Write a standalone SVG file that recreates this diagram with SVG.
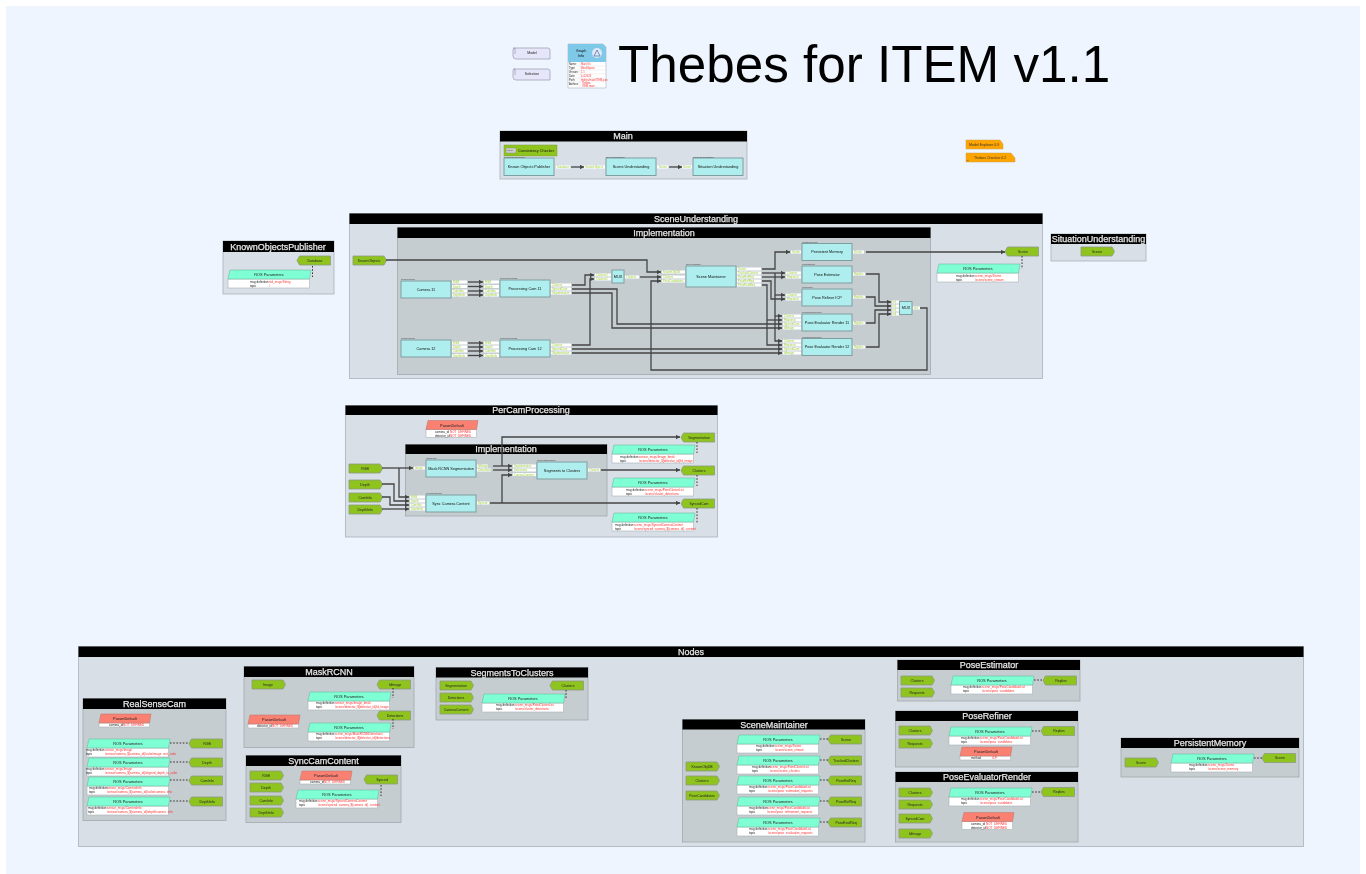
<svg xmlns="http://www.w3.org/2000/svg" width="1366" height="874" viewBox="0 0 1366 874">
<style>
text{font-family:"Liberation Sans",Arial,sans-serif}
.cl{fill:#d8dfe6;stroke:#a9b2b8;stroke-width:.8}
.ci{fill:#c6cdd0;stroke:#a2aaae;stroke-width:.8}
.hd{fill:#000}
.ht{fill:#e6e6e6;stroke:#e6e6e6;stroke-width:.25;font-size:9px;text-anchor:middle}
.n{fill:#afeeee;stroke:#7f9ea0;stroke-width:1}
.nt{font-size:3.8px;fill:#111;text-anchor:middle}
.nl{font-size:2px;fill:#444}
.pp{fill:#8fc41f;stroke:#8d9a80;stroke-width:.8}
.pt{font-size:3.5px;fill:#222;text-anchor:middle}
.rh{fill:#7fffd4;stroke:#6fb8a0;stroke-width:.6}
.pdh{fill:#fa8072;stroke:#c07a70;stroke-width:.6}
.tb{fill:#fff;stroke:#a9b2b8;stroke-width:.6}
.h{font-size:3.9px;fill:#222;text-anchor:middle}
.k{font-size:3px;fill:#222}
.v{font-size:3px;fill:#f33}
.l{fill:#fff}
.lt{font-size:2.8px;fill:#9acd32}
.c{fill:none;stroke:#444;stroke-width:1.3}
.a{marker-end:url(#ah)}
.d{fill:none;stroke:#333;stroke-width:1;stroke-dasharray:1.6 1.6}
.sc{fill:#e6e6fa;stroke:#9a9aaa;stroke-width:.7}
.tg{fill:#ffa500;stroke:#c9a15a;stroke-width:.5}
.tgt{font-size:3.6px;fill:#333}
.gi{font-size:2.6px;fill:#222}
.gr{font-size:2.6px;fill:#f33}
</style>
<defs>
<filter id="soft" filterUnits="userSpaceOnUse" x="0" y="0" width="1366" height="874" color-interpolation-filters="sRGB"><feGaussianBlur stdDeviation=".4"/></filter>
<marker id="ah" markerUnits="userSpaceOnUse" markerWidth="5" markerHeight="5" refX="4" refY="2.5" orient="auto"><path d="M0 .3L4 2.5L0 4.7Z" fill="#444"/></marker>
<path id="pi" class="pp" d="M0 0H31L33.5 4.5L31 9H0Z"/>
<path id="po" class="pp" d="M0 4.5L2.5 0H33.5V9H2.5Z"/>
<g id="ros"><rect class="tb" x="0" y="9" width="81.5" height="9"/><path class="rh" d="M2 0H83L81.5 9H0Z"/></g>
<g id="pd1"><rect class="tb" x="0" y="9" width="50.5" height="4"/><path class="pdh" d="M2 0H52L50.5 9H0Z"/></g>
<g id="pd2"><rect class="tb" x="0" y="9" width="50.5" height="8"/><path class="pdh" d="M2 0H52L50.5 9H0Z"/></g>
</defs>
<rect width="1366" height="874" fill="#fff"/>
<rect x="6" y="6" width="1354" height="868" fill="#eef5fe"/>
<g id="diagram" filter="url(#soft)">

<g id="title"><text x="618" y="82" font-size="51.2" fill="#000">Thebes for ITEM v1.1</text></g>

<g id="legend-model"><path class="sc" d="M513 48H548Q550 48 550 50V59H516Q513 59 513 56V50Q513 48 515 48V54"/><text class="pt" x="532" y="54">Model</text></g>
<g id="legend-selection"><path class="sc" d="M513 69H548Q550 69 550 71V80H516Q513 80 513 77V71Q513 69 515 69V75"/><text class="pt" x="532" y="75">Selection</text></g>

<g id="graph-info">
<path d="M568 44H603L606 47V88H568Z" fill="#fff" stroke="#a9b2b8" stroke-width=".6"/>
<path d="M568 44H603L606 47V62H568Z" fill="#7ec8e8"/>
<circle cx="597" cy="53" r="5" fill="#dfe8f5"/>
<path d="M597 50L594 56H600Z" fill="none" stroke="#5a78b0" stroke-width=".8"/>
<text class="nt" x="581" y="52">Graph</text><text class="nt" x="581" y="57">Info</text>
<path d="M580 62V88M568 66H606M568 70H606M568 74H606M568 78H606M568 82H606" stroke="#ccc" stroke-width=".3" fill="none"/>
<text class="gi" x="569" y="65">Name:</text><text class="gr" x="581" y="65">Main Kit</text>
<text class="gi" x="569" y="69">Type:</text><text class="gr" x="581" y="69">BlockSpace</text>
<text class="gi" x="569" y="73">Version:</text><text class="gr" x="581" y="73">1.1</text>
<text class="gi" x="569" y="77">Date:</text><text class="gr" x="581" y="77">4.4.2024</text>
<text class="gi" x="569" y="81">Path:</text><text class="gr" x="581" y="81">thebes/main/ITEM.json</text>
<text class="gi" x="569" y="85">Authors:</text><text class="gr" x="582" y="84">Thebes</text><text class="gr" x="582" y="87">ITEM team</text>
</g>

<g id="tag-model-explorer"><path class="tg" d="M966 140H1000L1003 144V149H966Z"/><text class="tgt" x="969" y="146">Model Explorer 0.9</text></g>
<g id="tag-thebes-checker"><path class="tg" d="M966 153H1011L1015 158V162H966Z"/><text class="tgt" x="974" y="158.5">Thebes Checker 0.2</text><text class="nl" x="966.5" y="160.5">Ct</text></g>

<g id="main">
<rect class="cl" x="500" y="131" width="247" height="48"/><rect class="hd" x="500" y="131" width="247" height="10.5"/><text class="ht" x="623" y="139.2">Main</text>
<g id="consistency"><rect x="504" y="145" width="53" height="11" fill="#8fc41f" stroke="#7d9a40" stroke-width=".5"/><rect x="506" y="148" width="10" height="5" rx="1" fill="#ccc" stroke="#777" stroke-width=".3"/><text class="nl" x="507" y="151.3">Check</text><text class="nt" x="536" y="151.8">Consistency Checker</text></g>
<g id="main-kop"><rect class="n" x="504" y="158" width="50" height="17.5"/><text class="nt" x="529" y="168">Known Objects Publisher</text><text class="nl" x="504" y="157.5">KnownObjectsPublisher</text></g>
<g id="main-su"><rect class="n" x="606" y="158" width="50" height="17.5"/><text class="nt" x="631" y="168">Scene Understanding</text><text class="nl" x="606" y="157.5">SceneUnderstanding</text></g>
<g id="main-situ"><rect class="n" x="693" y="158" width="50" height="17.5"/><text class="nt" x="718" y="168">Situation Understanding</text><text class="nl" x="693" y="157.5">SituationUnderstanding</text></g>
<rect class="l" x="556" y="165.5" width="14" height="3"/><text class="lt" x="557" y="168">Database</text>
<rect class="l" x="584" y="165.5" width="21" height="3"/><text class="lt" x="585" y="168">KnownObjects</text>
<rect class="l" x="657" y="165.5" width="11" height="3"/><text class="lt" x="659" y="168">Scene</text>
<rect class="l" x="682" y="165.5" width="10" height="3"/><text class="lt" x="683" y="168">Scene</text>
</g>

<g id="knownobjectspublisher">
<rect class="cl" x="223" y="241" width="111" height="53"/><rect class="hd" x="223" y="241" width="111" height="11"/><text class="ht" x="278" y="249.5">KnownObjectsPublisher</text>
<g id="kop-database" transform="translate(297,256)"><use href="#po"/><text class="pt" x="18" y="5.6">Database</text></g>
<g id="kop-ros" transform="translate(228,270)"><use href="#ros"/><text class="h" x="41" y="6">ROS Parameters</text><text class="k" x="22" y="12.5">msg definition</text><text class="k" x="22" y="16.5">topic</text><text class="v" x="41" y="12.5">std_msgs/String</text><text class="v" x="41" y="16.5">/</text></g>
</g>

<g id="sceneunderstanding">
<rect class="cl" x="349.5" y="213.5" width="693" height="165"/><rect class="hd" x="349.5" y="213.5" width="693" height="10.5"/><text class="ht" x="696" y="221.7">SceneUnderstanding</text>
<g id="su-knownobjects" transform="translate(353,256)"><use href="#pi"/><text class="pt" x="16" y="5.6">KnownObjects</text></g>
<g id="su-scene" transform="translate(1005,247)"><use href="#po"/><text class="pt" x="18" y="5.6">Scene</text></g>
<g id="su-ros" transform="translate(937,264)"><use href="#ros"/><text class="h" x="41" y="6">ROS Parameters</text><text class="k" x="19" y="12.5">msg definition</text><text class="k" x="19" y="16.5">topic</text><text class="v" x="38" y="12.5">scene_msgs/Scene</text><text class="v" x="38" y="16.5">/scene/scene_stream</text></g>
<g id="su-impl">
<rect class="ci" x="397.5" y="227.5" width="533" height="147"/><rect class="hd" x="397.5" y="227.5" width="533" height="10.5"/><text class="ht" x="664" y="235.7">Implementation</text>
<g id="camera11"><rect class="n" x="401" y="281" width="50" height="17"/><text class="nt" x="426" y="290.5">Camera 11</text><text class="nl" x="401" y="280.3">RealSenseCam</text>
<rect class="l" x="452" y="280.5" width="15" height="3"/><text class="lt" x="453" y="283">RGB</text><rect class="l" x="452" y="285" width="15" height="3"/><text class="lt" x="453" y="287.5">Depth</text><rect class="l" x="452" y="289.5" width="15" height="3"/><text class="lt" x="453" y="292">CamInfo</text><rect class="l" x="452" y="293.5" width="15" height="3"/><text class="lt" x="453" y="296">DepthInfo</text></g>
<g id="procam11"><rect class="n" x="500" y="280" width="50" height="17"/><text class="nt" x="525" y="289.5">Processing Cam 11</text><text class="nl" x="500" y="279.3">PerCamProcessing</text>
<rect class="l" x="484" y="280.5" width="15" height="3"/><text class="lt" x="485" y="283">RGB</text><rect class="l" x="484" y="285" width="15" height="3"/><text class="lt" x="485" y="287.5">Depth</text><rect class="l" x="484" y="289.5" width="15" height="3"/><text class="lt" x="485" y="292">CamInfo</text><rect class="l" x="484" y="293.5" width="15" height="3"/><text class="lt" x="485" y="296">DepthInfo</text>
<rect class="l" x="551" y="283.5" width="20" height="3"/><text class="lt" x="552" y="286">Clusters</text><rect class="l" x="551" y="287.5" width="20" height="3"/><text class="lt" x="552" y="290">SyncedCam</text><rect class="l" x="551" y="291.5" width="20" height="3"/><text class="lt" x="552" y="294">Segmentation</text></g>
<g id="camera12"><rect class="n" x="401" y="340" width="50" height="17"/><text class="nt" x="426" y="349.5">Camera 12</text><text class="nl" x="401" y="339.3">RealSenseCam</text>
<rect class="l" x="452" y="341.5" width="15" height="3"/><text class="lt" x="453" y="344">RGB</text><rect class="l" x="452" y="345.5" width="15" height="3"/><text class="lt" x="453" y="348">Depth</text><rect class="l" x="452" y="349.5" width="15" height="3"/><text class="lt" x="453" y="352">CamInfo</text><rect class="l" x="452" y="354" width="15" height="3"/><text class="lt" x="453" y="356.5">DepthInfo</text></g>
<g id="procam12"><rect class="n" x="500" y="340" width="50" height="17"/><text class="nt" x="525" y="349.5">Processing Cam 12</text><text class="nl" x="500" y="339.3">PerCamProcessing</text>
<rect class="l" x="484" y="341.5" width="15" height="3"/><text class="lt" x="485" y="344">RGB</text><rect class="l" x="484" y="345.5" width="15" height="3"/><text class="lt" x="485" y="348">Depth</text><rect class="l" x="484" y="349.5" width="15" height="3"/><text class="lt" x="485" y="352">CamInfo</text><rect class="l" x="484" y="354" width="15" height="3"/><text class="lt" x="485" y="356.5">DepthInfo</text>
<rect class="l" x="551" y="343.5" width="20" height="3"/><text class="lt" x="552" y="346">Clusters</text><rect class="l" x="551" y="347.5" width="20" height="3"/><text class="lt" x="552" y="350">SyncedCam</text><rect class="l" x="551" y="351.5" width="20" height="3"/><text class="lt" x="552" y="354">Segmentation</text></g>
<g id="mux1"><rect class="n" x="612" y="270" width="12" height="13"/><text class="nt" x="618" y="277.8">MUX</text>
<rect class="l" x="595" y="273.5" width="16" height="3"/><text class="lt" x="596" y="276">Clusters1</text><rect class="l" x="595" y="277.5" width="16" height="3"/><text class="lt" x="596" y="280">Clusters2</text><rect class="l" x="625" y="275.5" width="14" height="3"/><text class="lt" x="626" y="278">Clusters</text></g>
<g id="scenemaintainer"><rect class="n" x="686" y="266" width="50" height="21"/><text class="nt" x="711" y="277.5">Scene Maintainer</text><text class="nl" x="686" y="265.3">SceneMaintainer</text>
<rect class="l" x="662" y="270.5" width="23" height="3"/><text class="lt" x="663" y="273">KnownObjDB</text><rect class="l" x="662" y="275.5" width="23" height="3"/><text class="lt" x="663" y="278">Clusters</text><rect class="l" x="662" y="279.5" width="23" height="3"/><text class="lt" x="663" y="282">PoseCandidates</text>
<rect class="l" x="737" y="267.5" width="24" height="3"/><text class="lt" x="738" y="270">Scene</text><rect class="l" x="737" y="271.5" width="24" height="3"/><text class="lt" x="738" y="274">TrackedClusters</text><rect class="l" x="737" y="275.5" width="24" height="3"/><text class="lt" x="738" y="278">PoseEstReq</text><rect class="l" x="737" y="279.5" width="24" height="3"/><text class="lt" x="738" y="282">PoseRefReq</text><rect class="l" x="737" y="283.5" width="24" height="3"/><text class="lt" x="738" y="286">PoseEvalReq</text></g>
<g id="persistentmemory"><rect class="n" x="802" y="243.5" width="50" height="17"/><text class="nt" x="827" y="253">Persistent Memory</text><text class="nl" x="802" y="242.8">PersistentMemory</text>
<rect class="l" x="791" y="250.5" width="10" height="3"/><text class="lt" x="792" y="253">Scene</text><rect class="l" x="853" y="250.5" width="11" height="3"/><text class="lt" x="854" y="253">Scene</text></g>
<g id="poseestimator"><rect class="n" x="802" y="266" width="50" height="17"/><text class="nt" x="827" y="275.5">Pose Estimator</text><text class="nl" x="802" y="265.3">PoseEstimator</text>
<rect class="l" x="786" y="271.5" width="15" height="3"/><text class="lt" x="787" y="274">Clusters</text><rect class="l" x="786" y="275.5" width="15" height="3"/><text class="lt" x="787" y="278">Requests</text><rect class="l" x="853" y="272.5" width="12" height="3"/><text class="lt" x="854" y="275">Replies</text></g>
<g id="poserefiner"><rect class="n" x="802" y="289" width="50" height="17"/><text class="nt" x="827" y="298.5">Pose Refiner ICP</text><text class="nl" x="802" y="288.3">PoseRefiner</text>
<rect class="l" x="786" y="293.5" width="15" height="3"/><text class="lt" x="787" y="296">Clusters</text><rect class="l" x="786" y="297.5" width="15" height="3"/><text class="lt" x="787" y="300">Requests</text><rect class="l" x="853" y="295.5" width="12" height="3"/><text class="lt" x="854" y="298">Replies</text></g>
<g id="poseeval11"><rect class="n" x="802" y="314" width="50" height="17"/><text class="nt" x="827" y="323.5">Pose Evaluator Render 11</text><text class="nl" x="802" y="313.3">PoseEvaluatorRender</text>
<rect class="l" x="783" y="314.5" width="18" height="3"/><text class="lt" x="784" y="317">Clusters</text><rect class="l" x="783" y="318.5" width="18" height="3"/><text class="lt" x="784" y="321">Requests</text><rect class="l" x="783" y="322.5" width="18" height="3"/><text class="lt" x="784" y="325">SyncedCam</text><rect class="l" x="783" y="326.5" width="18" height="3"/><text class="lt" x="784" y="329">IdImage</text><rect class="l" x="853" y="321.5" width="12" height="3"/><text class="lt" x="854" y="324">Replies</text></g>
<g id="poseeval12"><rect class="n" x="802" y="338.5" width="50" height="17"/><text class="nt" x="827" y="348">Pose Evaluator Render 12</text><text class="nl" x="802" y="337.8">PoseEvaluatorRender</text>
<rect class="l" x="783" y="339.5" width="18" height="3"/><text class="lt" x="784" y="342">Clusters</text><rect class="l" x="783" y="343.5" width="18" height="3"/><text class="lt" x="784" y="346">Requests</text><rect class="l" x="783" y="347.5" width="18" height="3"/><text class="lt" x="784" y="350">SyncedCam</text><rect class="l" x="783" y="351.5" width="18" height="3"/><text class="lt" x="784" y="354">IdImage</text><rect class="l" x="853" y="345.5" width="12" height="3"/><text class="lt" x="854" y="348">Replies</text></g>
<g id="mux2"><rect class="n" x="899.5" y="301.5" width="12.5" height="13"/><text class="nt" x="906" y="309.3">MUX</text>
<rect class="l" x="892" y="300.5" width="7" height="3"/><text class="lt" x="892.5" y="303">in1</text><rect class="l" x="892" y="304.5" width="7" height="3"/><text class="lt" x="892.5" y="307">in2</text><rect class="l" x="892" y="308.5" width="7" height="3"/><text class="lt" x="892.5" y="311">in3</text><rect class="l" x="892" y="312.5" width="7" height="3"/><text class="lt" x="892.5" y="315">in4</text><rect class="l" x="913" y="306.5" width="7" height="3"/><text class="lt" x="914" y="309">out</text></g>
</g>
</g>

<g id="situationunderstanding">
<rect class="cl" x="1051" y="234" width="95" height="27"/><rect class="hd" x="1051" y="234" width="95" height="10"/><text class="ht" x="1098.5" y="242.2">SituationUnderstanding</text>
<g id="situ-scene" transform="translate(1081,247)"><use href="#pi"/><text class="pt" x="16" y="5.6">Scene</text></g>
</g>

<g id="percamprocessing">
<rect class="cl" x="345.5" y="405.5" width="372" height="131.5"/><rect class="hd" x="345.5" y="405.5" width="372" height="9.5"/><text class="ht" x="531" y="413.2">PerCamProcessing</text>
<g id="pc-paramdefault" transform="translate(426,420.5)"><use href="#pd2"/><text class="h" x="26" y="6">ParamDefault</text><text class="k" x="9" y="12.5">camera_id</text><text class="v" x="24" y="12.5">NOT_DEFINED</text><text class="k" x="9" y="16">detector_id</text><text class="v" x="24" y="16">NOT_DEFINED</text></g>
<g id="pc-rgb" transform="translate(349,464)"><use href="#pi"/><text class="pt" x="16" y="5.6">RGB</text></g>
<g id="pc-depth" transform="translate(349,480)"><use href="#pi"/><text class="pt" x="16" y="5.6">Depth</text></g>
<g id="pc-caminfo" transform="translate(349,493)"><use href="#pi"/><text class="pt" x="16" y="5.6">CamInfo</text></g>
<g id="pc-depthinfo" transform="translate(349,505)"><use href="#pi"/><text class="pt" x="16" y="5.6">DepthInfo</text></g>
<g id="pc-segmentation" transform="translate(681,433)"><use href="#po"/><text class="pt" x="18" y="5.6">Segmentation</text></g>
<g id="pc-clusters" transform="translate(681,466)"><use href="#po"/><text class="pt" x="18" y="5.6">Clusters</text></g>
<g id="pc-syncedcam" transform="translate(681,499)"><use href="#po"/><text class="pt" x="18" y="5.6">SyncedCam</text></g>
<g id="pc-ros1" transform="translate(612,445)"><use href="#ros"/><text class="h" x="41" y="6">ROS Parameters</text><text class="k" x="8" y="12.5">msg definition</text><text class="k" x="8" y="16.5">topic</text><text class="v" x="27" y="12.5">sensor_msgs/Image_bmsk</text><text class="v" x="27" y="16.5">/scene/detector_${detector_id}/id_image</text></g>
<g id="pc-ros2" transform="translate(612,478)"><use href="#ros"/><text class="h" x="41" y="6">ROS Parameters</text><text class="k" x="14" y="12.5">msg definition</text><text class="k" x="14" y="16.5">topic</text><text class="v" x="33" y="12.5">scene_msgs/PointClusterList</text><text class="v" x="33" y="16.5">/scene/cluster_detections</text></g>
<g id="pc-ros3" transform="translate(612,513)"><use href="#ros"/><text class="h" x="41" y="6">ROS Parameters</text><text class="k" x="3" y="12.5">msg definition</text><text class="k" x="3" y="16.5">topic</text><text class="v" x="22" y="12.5">scene_msgs/SyncedCameraContent</text><text class="v" x="22" y="16.5">/scene/synced_camera_${camera_id}_content</text></g>
<g id="pc-impl">
<rect class="ci" x="405.5" y="444.5" width="201.5" height="71.5"/><rect class="hd" x="405.5" y="444.5" width="201.5" height="9.5"/><text class="ht" x="506" y="452.4">Implementation</text>
<g id="maskrcnn"><rect class="n" x="426" y="460" width="50" height="17"/><text class="nt" x="451" y="469.5">Mask RCNN Segmentation</text><text class="nl" x="426" y="459.3">MaskRCNN</text>
<rect class="l" x="414" y="466.5" width="11" height="3"/><text class="lt" x="415" y="469">Image</text><rect class="l" x="477" y="464.5" width="11" height="3"/><text class="lt" x="478" y="467">IdImage</text><rect class="l" x="477" y="468.5" width="14" height="3"/><text class="lt" x="478" y="471">Detections</text></g>
<g id="segmentstoclusters"><rect class="n" x="537" y="462" width="50" height="17"/><text class="nt" x="562" y="471.5">Segments to Clusters</text><text class="nl" x="537" y="461.3">SegmentsToClusters</text>
<rect class="l" x="513" y="464.5" width="23" height="3"/><text class="lt" x="514" y="467">Segmentation</text><rect class="l" x="513" y="468.5" width="23" height="3"/><text class="lt" x="514" y="471">Detections</text><rect class="l" x="513" y="473" width="23" height="3"/><text class="lt" x="514" y="475.5">CameraContent</text><rect class="l" x="588" y="468.5" width="12" height="3"/><text class="lt" x="589" y="471">Clusters</text></g>
<g id="synccamcontent"><rect class="n" x="426" y="495" width="50" height="17"/><text class="nt" x="451" y="504.5">Sync Camera Content</text><text class="nl" x="426" y="494.3">SyncCamContent</text>
<rect class="l" x="410" y="495.5" width="15" height="3"/><text class="lt" x="411" y="498">RGB</text><rect class="l" x="410" y="499.5" width="15" height="3"/><text class="lt" x="411" y="502">Depth</text><rect class="l" x="410" y="503.5" width="15" height="3"/><text class="lt" x="411" y="506">CamInfo</text><rect class="l" x="410" y="507.5" width="15" height="3"/><text class="lt" x="411" y="510">DepthInfo</text><rect class="l" x="477" y="501.5" width="12" height="3"/><text class="lt" x="478" y="504">Synced</text></g>
</g>
</g>

<g id="nodes">
<rect class="cl" x="78.5" y="646.5" width="1225" height="200"/><rect class="hd" x="78.5" y="646.5" width="1225" height="10.5"/><text class="ht" x="691" y="654.7">Nodes</text>

<g id="realsensecam">
<rect class="ci" x="83" y="698.5" width="143" height="122"/><rect class="hd" x="83" y="698.5" width="143" height="10.5"/><text class="ht" x="154.5" y="706.9">RealSenseCam</text>
<g id="rs-pd" transform="translate(99,714)"><use href="#pd1"/><text class="h" x="26" y="6">ParamDefault</text><text class="k" x="10" y="12.3">camera_id</text><text class="v" x="24" y="12.3">NOT_DEFINED</text></g>
<g id="rs-ros1" transform="translate(87,739)"><use href="#ros"/><text class="h" x="41" y="6">ROS Parameters</text><text class="k" x="-1" y="12">msg definition</text><text class="k" x="-1" y="16">topic</text><text class="v" x="18" y="12">sensor_msgs/Image</text><text class="v" x="18" y="16">/sensor/camera_${camera_id}/color/image_rect_color</text></g>
<g id="rs-ros2" transform="translate(87,758)"><use href="#ros"/><text class="h" x="41" y="6">ROS Parameters</text><text class="k" x="-1" y="12">msg definition</text><text class="k" x="-1" y="16">topic</text><text class="v" x="18" y="12">sensor_msgs/Image</text><text class="v" x="18" y="16">/sensor/camera_${camera_id}/aligned_depth_to_color</text></g>
<g id="rs-ros3" transform="translate(87,777)"><use href="#ros"/><text class="h" x="41" y="6">ROS Parameters</text><text class="k" x="2" y="12">msg definition</text><text class="k" x="2" y="16">topic</text><text class="v" x="20" y="12">sensor_msgs/CameraInfo</text><text class="v" x="20" y="16">/sensor/camera_${camera_id}/color/camera_info</text></g>
<g id="rs-ros4" transform="translate(87,797)"><use href="#ros"/><text class="h" x="41" y="6">ROS Parameters</text><text class="k" x="1" y="12">msg definition</text><text class="k" x="1" y="16">topic</text><text class="v" x="20" y="12">sensor_msgs/CameraInfo</text><text class="v" x="20" y="16">/sensor/camera_${camera_id}/depth/camera_info</text></g>
<g id="rs-rgb" transform="translate(189,739)"><use href="#po"/><text class="pt" x="18" y="5.6">RGB</text></g>
<g id="rs-depth" transform="translate(189,758)"><use href="#po"/><text class="pt" x="18" y="5.6">Depth</text></g>
<g id="rs-caminfo" transform="translate(189,776)"><use href="#po"/><text class="pt" x="18" y="5.6">CamInfo</text></g>
<g id="rs-depthinfo" transform="translate(189,797)"><use href="#po"/><text class="pt" x="18" y="5.6">DepthInfo</text></g>
</g>

<g id="maskrcnn-def">
<rect class="ci" x="244" y="666.5" width="170" height="81"/><rect class="hd" x="244" y="666.5" width="170" height="10.5"/><text class="ht" x="329" y="674.9">MaskRCNN</text>
<g id="mr-image" transform="translate(252,680)"><use href="#pi"/><text class="pt" x="16" y="5.6">Image</text></g>
<g id="mr-idimage" transform="translate(377,680)"><use href="#po"/><text class="pt" x="18" y="5.6">IdImage</text></g>
<g id="mr-detections" transform="translate(377,711)"><use href="#po"/><text class="pt" x="18" y="5.6">Detections</text></g>
<g id="mr-ros1" transform="translate(308,692)"><use href="#ros"/><text class="h" x="41" y="6">ROS Parameters</text><text class="k" x="8" y="12">msg definition</text><text class="k" x="8" y="16">topic</text><text class="v" x="27" y="12">sensor_msgs/Image_bmsk</text><text class="v" x="27" y="16">/scene/detector_${detector_id}/id_image</text></g>
<g id="mr-ros2" transform="translate(308,723)"><use href="#ros"/><text class="h" x="41" y="6">ROS Parameters</text><text class="k" x="8" y="12">msg definition</text><text class="k" x="8" y="16">topic</text><text class="v" x="27" y="12">scene_msgs/MaskRCNNDetections</text><text class="v" x="27" y="16">/scene/detector_${detector_id}/detections</text></g>
<g id="mr-pd" transform="translate(248,715)"><use href="#pd1"/><text class="h" x="26" y="6">ParamDefault</text><text class="k" x="9" y="12.3">detector_id</text><text class="v" x="24" y="12.3">NOT_DEFINED</text></g>
</g>

<g id="synccamcontent-def">
<rect class="ci" x="246" y="755.5" width="155" height="67"/><rect class="hd" x="246" y="755.5" width="155" height="10.5"/><text class="ht" x="323.5" y="763.9">SyncCamContent</text>
<g id="sc-rgb" transform="translate(250,771)"><use href="#pi"/><text class="pt" x="16" y="5.6">RGB</text></g>
<g id="sc-depth" transform="translate(250,783)"><use href="#pi"/><text class="pt" x="16" y="5.6">Depth</text></g>
<g id="sc-caminfo" transform="translate(250,796)"><use href="#pi"/><text class="pt" x="16" y="5.6">CamInfo</text></g>
<g id="sc-depthinfo" transform="translate(250,808)"><use href="#pi"/><text class="pt" x="16" y="5.6">DepthInfo</text></g>
<g id="sc-synced" transform="translate(364,775)"><use href="#po"/><text class="pt" x="18" y="5.6">Synced</text></g>
<g id="sc-pd" transform="translate(300,771)"><use href="#pd1"/><text class="h" x="26" y="6">ParamDefault</text><text class="k" x="10" y="12.3">camera_id</text><text class="v" x="24" y="12.3">NOT_DEFINED</text></g>
<g id="sc-ros" transform="translate(296,790)"><use href="#ros"/><text class="h" x="41" y="6">ROS Parameters</text><text class="k" x="3" y="12">msg definition</text><text class="k" x="3" y="16">topic</text><text class="v" x="22" y="12">scene_msgs/SyncedCameraContent</text><text class="v" x="22" y="16">/scene/synced_camera_${camera_id}_content</text></g>
</g>

<g id="segmentstoclusters-def">
<rect class="ci" x="436" y="667.5" width="152" height="52.5"/><rect class="hd" x="436" y="667.5" width="152" height="10"/><text class="ht" x="512" y="675.7">SegmentsToClusters</text>
<g id="st-seg" transform="translate(440,681)"><use href="#pi"/><text class="pt" x="16" y="5.6">Segmentation</text></g>
<g id="st-det" transform="translate(440,693)"><use href="#pi"/><text class="pt" x="16" y="5.6">Detections</text></g>
<g id="st-cam" transform="translate(440,705)"><use href="#pi"/><text class="pt" x="16" y="5.6">CameraContent</text></g>
<g id="st-clusters" transform="translate(550,681)"><use href="#po"/><text class="pt" x="18" y="5.6">Clusters</text></g>
<g id="st-ros" transform="translate(482,694)"><use href="#ros"/><text class="h" x="41" y="6">ROS Parameters</text><text class="k" x="14" y="12">msg definition</text><text class="k" x="14" y="16">topic</text><text class="v" x="33" y="12">scene_msgs/PointClusterList</text><text class="v" x="33" y="16">/scene/cluster_detections</text></g>
</g>

<g id="scenemaintainer-def">
<rect class="ci" x="682.5" y="719.5" width="182.5" height="122.5"/><rect class="hd" x="682.5" y="719.5" width="182.5" height="10"/><text class="ht" x="774" y="727.7">SceneMaintainer</text>
<g id="sm-known" transform="translate(686,762)"><use href="#pi"/><text class="pt" x="16" y="5.6">KnownObjDB</text></g>
<g id="sm-clusters" transform="translate(686,776)"><use href="#pi"/><text class="pt" x="16" y="5.6">Clusters</text></g>
<g id="sm-cand" transform="translate(686,791)"><use href="#pi"/><text class="pt" x="16" y="5.6">PoseCandidates</text></g>
<g id="sm-ros1" transform="translate(737,735)"><use href="#ros"/><text class="h" x="41" y="6">ROS Parameters</text><text class="k" x="19" y="12">msg definition</text><text class="k" x="19" y="16">topic</text><text class="v" x="38" y="12">scene_msgs/Scene</text><text class="v" x="38" y="16">/scene/scene_stream</text></g>
<g id="sm-ros2" transform="translate(737,756)"><use href="#ros"/><text class="h" x="41" y="6">ROS Parameters</text><text class="k" x="15" y="12">msg definition</text><text class="k" x="15" y="16">topic</text><text class="v" x="33" y="12">scene_msgs/PointClusterList</text><text class="v" x="33" y="16">/scene/scene_clusters</text></g>
<g id="sm-ros3" transform="translate(737,776)"><use href="#ros"/><text class="h" x="41" y="6">ROS Parameters</text><text class="k" x="12" y="12">msg definition</text><text class="k" x="12" y="16">topic</text><text class="v" x="31" y="12">scene_msgs/PoseCandidateList</text><text class="v" x="31" y="16">/scene/pose_estimation_requests</text></g>
<g id="sm-ros4" transform="translate(737,797)"><use href="#ros"/><text class="h" x="41" y="6">ROS Parameters</text><text class="k" x="12" y="12">msg definition</text><text class="k" x="12" y="16">topic</text><text class="v" x="30" y="12">scene_msgs/PoseCandidateList</text><text class="v" x="30" y="16">/scene/pose_refinement_requests</text></g>
<g id="sm-ros5" transform="translate(737,818)"><use href="#ros"/><text class="h" x="41" y="6">ROS Parameters</text><text class="k" x="12" y="12">msg definition</text><text class="k" x="12" y="16">topic</text><text class="v" x="31" y="12">scene_msgs/PoseCandidateList</text><text class="v" x="31" y="16">/scene/pose_evaluation_requests</text></g>
<g id="sm-scene" transform="translate(828,735)"><use href="#po"/><text class="pt" x="18" y="5.6">Scene</text></g>
<g id="sm-tracked" transform="translate(828,756)"><use href="#po"/><text class="pt" x="18" y="5.6">TrackedClusters</text></g>
<g id="sm-est" transform="translate(828,776)"><use href="#po"/><text class="pt" x="18" y="5.6">PoseEstReq</text></g>
<g id="sm-ref" transform="translate(828,797)"><use href="#po"/><text class="pt" x="18" y="5.6">PoseRefReq</text></g>
<g id="sm-eval" transform="translate(828,818)"><use href="#po"/><text class="pt" x="18" y="5.6">PoseEvalReq</text></g>
</g>

<g id="poseestimator-def">
<rect class="ci" x="897.5" y="660" width="182.5" height="41"/><rect class="hd" x="897.5" y="660" width="182.5" height="10"/><text class="ht" x="989" y="668.2">PoseEstimator</text>
<g id="pe-clusters" transform="translate(901,676)"><use href="#pi"/><text class="pt" x="16" y="5.6">Clusters</text></g>
<g id="pe-requests" transform="translate(901,688)"><use href="#pi"/><text class="pt" x="16" y="5.6">Requests</text></g>
<g id="pe-replies" transform="translate(1043,676)"><use href="#po"/><text class="pt" x="18" y="5.6">Replies</text></g>
<g id="pe-ros" transform="translate(951,676)"><use href="#ros"/><text class="h" x="41" y="6">ROS Parameters</text><text class="k" x="12" y="12.3">msg definition</text><text class="k" x="12" y="16">topic</text><text class="v" x="31" y="12.3">scene_msgs/PoseCandidateList</text><text class="v" x="31" y="16">/scene/pose_candidates</text></g>
</g>

<g id="poserefiner-def">
<rect class="ci" x="895.5" y="711" width="182.5" height="56"/><rect class="hd" x="895.5" y="711" width="182.5" height="10"/><text class="ht" x="987" y="719.2">PoseRefiner</text>
<g id="pr-clusters" transform="translate(899,726)"><use href="#pi"/><text class="pt" x="16" y="5.6">Clusters</text></g>
<g id="pr-requests" transform="translate(899,739)"><use href="#pi"/><text class="pt" x="16" y="5.6">Requests</text></g>
<g id="pr-replies" transform="translate(1041,726.5)"><use href="#po"/><text class="pt" x="18" y="5.6">Replies</text></g>
<g id="pr-ros" transform="translate(949,727)"><use href="#ros"/><text class="h" x="41" y="6">ROS Parameters</text><text class="k" x="12" y="12.3">msg definition</text><text class="k" x="12" y="16">topic</text><text class="v" x="31" y="12.3">scene_msgs/PoseCandidateList</text><text class="v" x="31" y="16">/scene/pose_candidates</text></g>
<g id="pr-pd" transform="translate(960,747)"><use href="#pd1"/><text class="h" x="26" y="6">ParamDefault</text><text class="k" x="11" y="12.3">method</text><text class="v" x="32" y="12.3">ICP</text></g>
</g>

<g id="poseevaluator-def">
<rect class="ci" x="895.5" y="772" width="182.5" height="70"/><rect class="hd" x="895.5" y="772" width="182.5" height="10"/><text class="ht" x="987" y="780.2">PoseEvaluatorRender</text>
<g id="pv-clusters" transform="translate(899,788)"><use href="#pi"/><text class="pt" x="16" y="5.6">Clusters</text></g>
<g id="pv-requests" transform="translate(899,800)"><use href="#pi"/><text class="pt" x="16" y="5.6">Requests</text></g>
<g id="pv-synced" transform="translate(899,814)"><use href="#pi"/><text class="pt" x="16" y="5.6">SyncedCam</text></g>
<g id="pv-idimage" transform="translate(899,829)"><use href="#pi"/><text class="pt" x="16" y="5.6">IdImage</text></g>
<g id="pv-replies" transform="translate(1041,787.5)"><use href="#po"/><text class="pt" x="18" y="5.6">Replies</text></g>
<g id="pv-ros" transform="translate(949,788)"><use href="#ros"/><text class="h" x="41" y="6">ROS Parameters</text><text class="k" x="12" y="12.3">msg definition</text><text class="k" x="12" y="16">topic</text><text class="v" x="31" y="12.3">scene_msgs/PoseCandidateList</text><text class="v" x="31" y="16">/scene/pose_candidates</text></g>
<g id="pv-pd" transform="translate(962,812.5)"><use href="#pd2"/><text class="h" x="26" y="6">ParamDefault</text><text class="k" x="9" y="12.5">camera_id</text><text class="v" x="24" y="12.5">NOT_DEFINED</text><text class="k" x="9" y="16">detector_id</text><text class="v" x="24" y="16">NOT_DEFINED</text></g>
</g>

<g id="persistentmemory-def">
<rect class="ci" x="1121" y="738" width="178" height="39"/><rect class="hd" x="1121" y="738" width="178" height="10"/><text class="ht" x="1210" y="746.2">PersistentMemory</text>
<g id="pm-in" transform="translate(1125,758)"><use href="#pi"/><text class="pt" x="16" y="5.6">Scene</text></g>
<g id="pm-out" transform="translate(1262,753.5)"><use href="#po"/><text class="pt" x="18" y="5.6">Scene</text></g>
<g id="pm-ros" transform="translate(1171,754)"><use href="#ros"/><text class="h" x="41" y="6">ROS Parameters</text><text class="k" x="18" y="12">msg definition</text><text class="k" x="18" y="16">topic</text><text class="v" x="37" y="12">scene_msgs/Scene</text><text class="v" x="37" y="16">/scene/scene_memory</text></g>
</g>
</g>

<g id="connectors">
<path class="c a" d="M571 167H584"/><path class="c a" d="M669 167H682"/>
<path class="c a" d="M386 260H647V272H661"/>
<path class="c a" d="M468 282H483"/><path class="c a" d="M468 286.5H483"/><path class="c a" d="M468 291H483"/><path class="c a" d="M468 295H483"/>
<path class="c a" d="M468 343H483"/><path class="c a" d="M468 347H483"/><path class="c a" d="M468 351H483"/><path class="c a" d="M468 355.5H483"/>
<path class="c a" d="M572 285H585V275H594"/><path class="c a" d="M572 345H590V279H594"/>
<path class="c a" d="M640 277H661"/>
<path class="c a" d="M920 308H927V370H651V281H661"/>
<path class="c a" d="M572 289H617V324H782"/><path class="c a" d="M572 293H612V328H782"/>
<path class="c a" d="M572 349H782"/><path class="c a" d="M572 353H782"/>
<path class="c a" d="M762 269H775V252H790"/>
<path class="c a" d="M762 273H785"/><path class="c a" d="M762 277H785"/>
<path class="c a" d="M775 273V341H782"/><path class="c a" d="M775 295H785"/><path class="c a" d="M775 316H782"/>
<path class="c a" d="M762 281H771V299H785"/>
<path class="c a" d="M762 285H767V345H782"/><path class="c a" d="M767 320H782"/>
<path class="c a" d="M866 252H1005"/>
<path class="c a" d="M866 274H879V302H891"/><path class="c a" d="M866 297H875V306H891"/><path class="c a" d="M866 323H875V310H891"/><path class="c a" d="M866 347H879V314H891"/>
<path class="d" d="M1022 256V269"/>
<path class="d" d="M312.5 266V277"/>
<path class="c a" d="M382 468H413"/><path class="c a" d="M399 468V497H409"/>
<path class="c a" d="M382 484H394V501H409"/><path class="c a" d="M382 497H390V505H409"/><path class="c a" d="M382 509H409"/>
<path class="c a" d="M493 466H512"/><path class="c a" d="M493 470H512"/>
<path class="c a" d="M502 466V437H680"/>
<path class="c a" d="M490 503H680"/><path class="c a" d="M502 503V475H512"/>
<path class="c a" d="M601 470H680"/>
<path class="d" d="M697 442V453"/><path class="d" d="M697 475V486"/><path class="d" d="M697 508V524"/>
<path class="d" d="M170 743H189"/><path class="d" d="M170 762H189"/><path class="d" d="M170 780H189"/><path class="d" d="M170 801H189"/>
<path class="d" d="M393 688V698"/><path class="d" d="M393 719V729"/>
<path class="d" d="M381 785V796"/>
<path class="d" d="M566 690V699"/>
<path class="d" d="M820 739H828"/><path class="d" d="M820 760H828"/><path class="d" d="M820 780H828"/><path class="d" d="M820 801H828"/><path class="d" d="M820 822H828"/>
<path class="d" d="M1034 680H1043"/><path class="d" d="M1032 731H1041"/><path class="d" d="M1032 792H1041"/><path class="d" d="M1254 758H1262"/>
</g>
</g>
</svg>
